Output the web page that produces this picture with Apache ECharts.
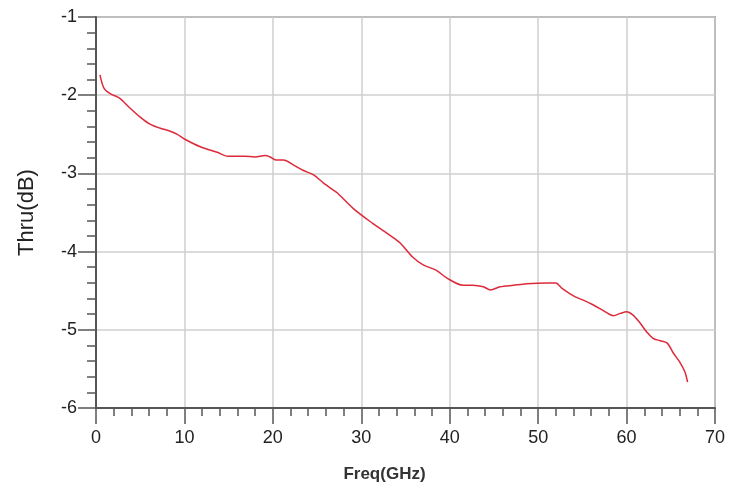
<!DOCTYPE html>
<html><head><meta charset="utf-8">
<script src="https://cdn.jsdelivr.net/npm/echarts@6/dist/echarts.min.js"></script>
<style>html,body{margin:0;padding:0;background:#fff}#c{width:737px;height:484px}</style>
</head><body><div id="c"></div>
<script>
const freqGHz = [0.45,0.9,1.6,2.7,3.8,5.0,6.1,7.2,8.4,9.2,10.0,11.8,13.7,14.9,16.8,18.0,19.1,19.7,20.4,21.2,22.3,23.4,24.6,25.7,26.8,27.3,29.1,31.3,33.2,34.4,35.8,37.0,38.5,39.7,41.5,42.6,43.8,44.6,45.7,47.2,48.7,51.0,52.0,52.7,54.2,55.1,56.2,57.6,58.5,59.3,60.0,60.7,61.5,62.3,63.0,63.8,64.6,65.3,66.0,66.6,66.9];
const thruDB = [-1.74,-1.91,-1.98,-2.04,-2.16,-2.28,-2.37,-2.42,-2.46,-2.50,-2.56,-2.66,-2.73,-2.78,-2.78,-2.79,-2.77,-2.79,-2.83,-2.83,-2.89,-2.96,-3.02,-3.12,-3.21,-3.25,-3.45,-3.64,-3.79,-3.89,-4.07,-4.17,-4.24,-4.34,-4.43,-4.43,-4.45,-4.49,-4.45,-4.43,-4.41,-4.40,-4.40,-4.47,-4.58,-4.62,-4.68,-4.77,-4.82,-4.79,-4.77,-4.81,-4.91,-5.03,-5.11,-5.14,-5.17,-5.30,-5.41,-5.54,-5.67];
const xTicks = [0,10,20,30,40,50,60,70];
const yTicks = [-6,-5,-4,-3,-2,-1];

const chart = echarts.init(document.getElementById('c'), null, {renderer:'canvas'});
const axisCol = '#555';
chart.setOption({
  animation:false,
  grid:{left:96,top:17,right:22,bottom:76,outerBoundsMode:'none',containLabel:false,show:true,borderColor:'#666',borderWidth:1.5,backgroundColor:'#fff'},
  xAxis:{type:'value',min:xTicks[0],max:xTicks[xTicks.length-1],interval:10,
    name:'Freq(GHz)',nameLocation:'middle',nameGap:58,
    nameTextStyle:{fontFamily:'Liberation Sans',fontSize:17,color:'#333',fontWeight:'bold',padding:[0,42,0,0]},
    axisLine:{show:true,lineStyle:{color:axisCol,width:2}},
    axisTick:{show:true,length:16,lineStyle:{color:axisCol,width:1.5}},
    minorTick:{show:true,splitNumber:5,length:8,lineStyle:{color:axisCol,width:1.5}},
    axisLabel:{margin:21,fontFamily:'Liberation Sans',fontSize:18,color:'#222',
      formatter:v=>xTicks.includes(v)?String(v):''},
    splitLine:{show:true,lineStyle:{color:'#cfcfcf',width:1.5}}},
  yAxis:{type:'value',min:yTicks[0],max:yTicks[yTicks.length-1],interval:1,
    name:'Thru(dB)',nameLocation:'middle',nameGap:58,nameRotate:90,
    nameTextStyle:{fontFamily:'Liberation Sans',fontSize:22,color:'#222'},
    axisLine:{show:true,lineStyle:{color:axisCol,width:2}},
    axisTick:{show:true,length:18,lineStyle:{color:axisCol,width:1.5}},
    minorTick:{show:true,splitNumber:5,length:9,lineStyle:{color:axisCol,width:1.5}},
    axisLabel:{margin:19,fontFamily:'Liberation Sans',fontSize:18,color:'#222',
      formatter:v=>yTicks.includes(v)?String(v):''},
    splitLine:{show:true,lineStyle:{color:'#cfcfcf',width:1.5}}},
  series:[{type:'line',data:freqGHz.map((f,i)=>[f,thruDB[i]]),smooth:0.3,showSymbol:false,
    lineStyle:{color:'#dd2a3a',width:1.5}}]
});
</script></body></html>
